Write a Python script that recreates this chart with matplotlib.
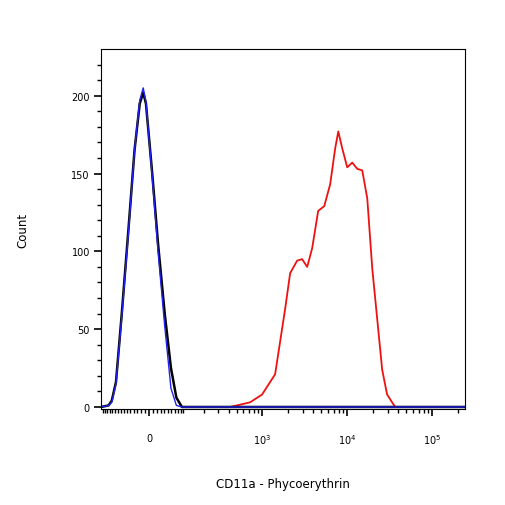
import numpy as np
import matplotlib
matplotlib.use("Agg")
import matplotlib.pyplot as plt

W = 94.0
red_x = [417, 722, 1000, 1425, 1870, 2143, 2590, 2960, 3400, 3890, 4580, 5390, 6330, 7250, 7890,
         8800, 10050, 11500, 13200, 15100, 17300, 19800, 22600, 25900, 29600, 36800, 60000, 240000]
red_y = [0, 3, 8, 21, 63, 86, 94, 95, 90, 102, 126, 129, 143, 166, 177,
         166, 154, 157, 153, 152, 134, 89, 57, 24, 8, 0, 0, 0]
blk_x = [-160, -125, -112, -96, -76, -55, -38, -24, -15, -8, 8, 23, 41, 59, 76, 95, 150, 240000]
blk_y = [0, 1, 4, 16, 60, 115, 165, 195, 202, 195, 150, 105, 60, 25, 6, 0, 0, 0]
blu_x = [-160, -125, -112, -96, -76, -55, -38, -24, -15, -8, 8, 23, 41, 59, 76, 95, 150, 240000]
blu_y = [0, 1, 3, 15, 58, 113, 165, 197, 205, 196, 148, 100, 52, 12, 1, 0, 0, 0]

fig = plt.figure(figsize=(5.06, 5.06), dpi=100)
ax = fig.add_axes([101/506, 1-410/506, 364/506, 360/506])
ax.set_xscale('function', functions=(lambda x: np.arcsinh(np.asarray(x)/W),
                                     lambda u: W*np.sinh(u)))
ax.plot(red_x, red_y, color='#ee1111', lw=1.3)
ax.plot(blk_x, blk_y, color='black', lw=1.8)
ax.plot(blu_x, blu_y, color='#2222ee', lw=1.0)
ax.set_xlim(-160, 244000)
ax.set_ylim(-1.3, 230)
ax.set_xticks([0, 1e3, 1e4, 1e5])
ax.set_xticklabels(['0', r'$10^3$', r'$10^4$', r'$10^5$'])
minor = [v for v in range(-150, 0, 10)] + list(range(10, 100, 10)) + list(range(100, 1000, 100)) + \
        list(range(2000, 10000, 1000)) + list(range(20000, 100000, 10000)) + [200000]
ax.set_xticks(minor, minor=True)
ax.set_yticks([0, 50, 100, 150, 200])
ax.set_yticks(range(0, 230, 10), minor=True)
ax.tick_params(labelsize=7, length=5, width=1.2, direction='out', pad=12)
ax.tick_params(axis='y', pad=3)
ax.tick_params(which='minor', length=3, width=1)
ax.set_xlabel('CD11a - Phycoerythrin', fontsize=8.5, labelpad=22)
ax.set_ylabel('Count', fontsize=8.5, labelpad=30)
fig.savefig('out.png', dpi=100)
